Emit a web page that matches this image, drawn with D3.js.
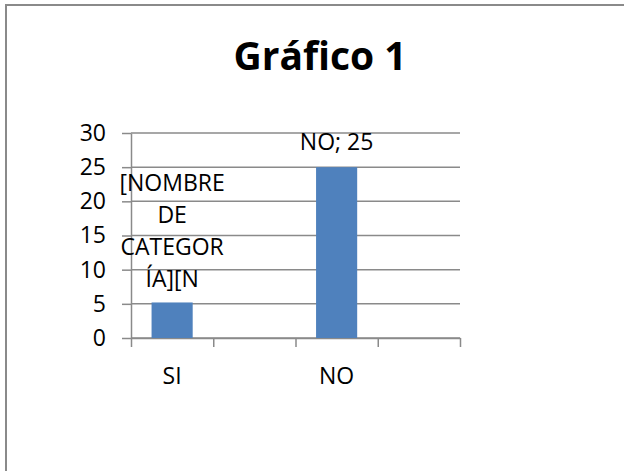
<!DOCTYPE html>
<html>
<head>
<meta charset="utf-8">
<script src="https://cdn.jsdelivr.net/npm/d3@7"></script>
<style>
    body { margin: 0; background: #fff; }
    svg { display: block; }
    svg text { font-family: "Open Sans", sans-serif; }
</style>
</head>
<body>
<svg id="chart" width="624" height="471"></svg>
<script>
// 資料
const categories = ["SI", "", "NO", ""];
const values = [5.2, null, 25, null];
const yTicks = [0, 5, 10, 15, 20, 25, 30];
const titleText = "Gráfico 1";
const siLabelLines = ["[NOMBRE", "DE", "CATEGOR", "ÍA][N"];
const noLabel = "NO; 25";

const svg = d3.select('#chart');
const gray = '#8a8a8a';
const fontStack = '"Open Sans", sans-serif';
const labelSize = '23px';

// 外框 (只看得到上緣和左緣)
svg.append('rect')
    .attr('x', 6)
    .attr('y', 5)
    .attr('width', 700)
    .attr('height', 600)
    .attr('fill', 'none')
    .attr('stroke', gray)
    .attr('stroke-width', 2);

// 標題
svg.append('text')
    .attr('x', 320)
    .attr('y', 70)
    .attr('text-anchor', 'middle')
    .style('font-size', '39px')
    .style('font-weight', 'bold')
    .text(titleText);

const margin = { left: 131, right: 164, top: 133, bottom: 133 };
const width = 624 - margin.left - margin.right;
const height = 471 - margin.top - margin.bottom;

const g = svg.append('g')
    .attr('transform', `translate(${margin.left}, ${margin.top})`);

const idx = d3.range(categories.length);

const xScale = d3.scaleBand()
    .domain(idx)
    .range([0, width])
    .paddingInner(0.5)
    .paddingOuter(0.25);

// 分類邊界刻度
const xEdge = d3.scaleLinear()
    .domain([0, categories.length])
    .range([0, width]);

const yScale = d3.scaleLinear()
    .domain([0, 30])
    .range([height, 0]);

// 格線
g.selectAll('.grid')
    .data(yTicks)
    .enter()
    .append('line')
    .attr('class', 'grid')
    .attr('x1', 0)
    .attr('x2', width)
    .attr('y1', d => yScale(d))
    .attr('y2', d => yScale(d))
    .attr('stroke', gray)
    .attr('stroke-width', 1.5);

// Y 軸
const yAxis = g.append('g')
    .call(d3.axisLeft(yScale).tickValues(yTicks).tickSize(9).tickPadding(16).tickSizeOuter(0));
yAxis.attr('font-family', null);
yAxis.selectAll('path, line').attr('stroke', gray).attr('stroke-width', 1.5);
yAxis.selectAll('text')
    .attr('fill', '#000')
    .style('font-size', labelSize)
    .style('font-family', fontStack);

// X 軸刻度
const xTickAxis = g.append('g')
    .attr('transform', `translate(0, ${height})`)
    .call(d3.axisBottom(xEdge).tickValues(d3.range(categories.length + 1)).tickFormat('').tickSize(9).tickSizeOuter(0));
xTickAxis.selectAll('path, line').attr('stroke', gray).attr('stroke-width', 1.5);

// X 軸標籤
const xLabelAxis = g.append('g')
    .attr('transform', `translate(0, ${height})`)
    .call(d3.axisBottom(xScale).tickFormat(i => categories[i]).tickSize(0).tickPadding(30));
xLabelAxis.attr('font-family', null);
xLabelAxis.select('.domain').remove();
xLabelAxis.selectAll('text')
    .attr('fill', '#000')
    .style('font-size', labelSize)
    .style('font-family', fontStack);

// 長條
const barData = idx.filter(i => values[i] !== null);
g.selectAll('.bar')
    .data(barData)
    .enter()
    .append('rect')
    .attr('class', 'bar')
    .attr('x', i => xScale(i))
    .attr('y', i => yScale(values[i]))
    .attr('width', xScale.bandwidth())
    .attr('height', i => height - yScale(values[i]))
    .attr('fill', '#4f81bd');

// 資料標籤
const siCx = xScale(0) + xScale.bandwidth() / 2;
const lineGap = 32.3;
g.append('text')
    .attr('text-anchor', 'middle')
    .style('font-size', labelSize)
    .selectAll('tspan')
    .data(siLabelLines)
    .enter()
    .append('tspan')
    .attr('x', siCx)
    .attr('y', (d, i) => yScale(values[0]) - 15 - (siLabelLines.length - 1 - i) * lineGap)
    .text(d => d);

g.append('text')
    .attr('x', xScale(2) + xScale.bandwidth() / 2)
    .attr('y', yScale(values[2]) - 17)
    .attr('text-anchor', 'middle')
    .style('font-size', labelSize)
    .text(noLabel);
</script>
</body>
</html>
